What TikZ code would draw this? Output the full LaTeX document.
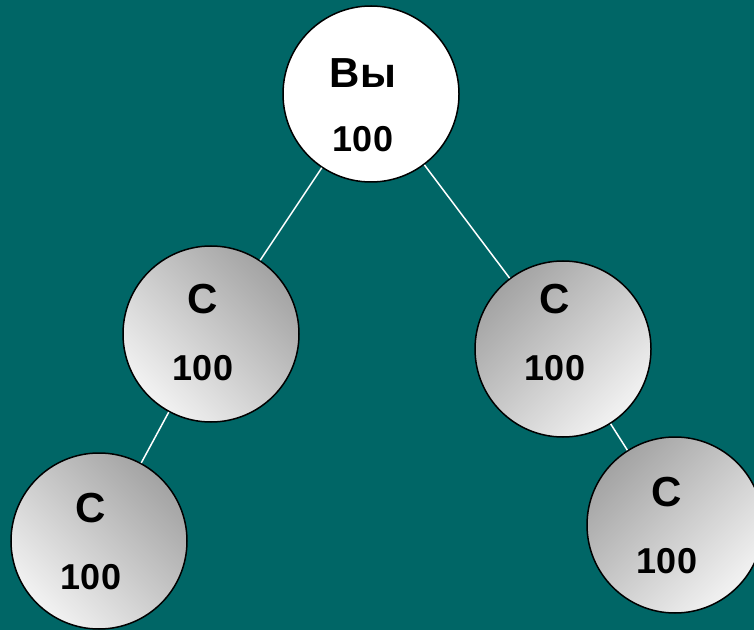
\documentclass[tikz,border=0pt]{standalone}
\usepackage{fontspec}
\setmainfont{Liberation Sans}
\usepackage{tikz}
\definecolor{teal bg}{RGB}{0,102,102}
\tikzset{
	person/.style={circle, draw=black, line width=0.75pt, minimum size=88pt, inner sep=0pt},
	grey left/.style={person, shading=axis, top color=black!36, bottom color=black!5, shading angle=-45},
	grey right/.style={person, shading=axis, top color=black!36, bottom color=black!5, shading angle=45},
	name text/.style={font=\bfseries\fontsize{21}{25}\selectfont},
	count text/.style={font=\bfseries\fontsize{18}{22}\selectfont},
	link/.style={white, line width=0.75pt}
}

\begin{document}
\begin{tikzpicture}[x=0.5pt, y=-0.5pt]
            \fill [teal bg] (0,0) rectangle (754,630);
            \useasboundingbox (0,0) rectangle (754,630);
            \clip (0,0) rectangle (754,630);

            \node (you) at (371,94) [person, fill=white] {};
            \node (left c) at (211,334) [grey left] {};
            \node (right c) at (563,349) [grey right] {};
            \node (far left c) at (99,541) [grey left] {};
            \node (far right c) at (675,525) [grey right] {};

            \draw [link] (you)--(left c);
            \draw [link] (you)--(right c);
            \draw [link] (left c)--(far left c);
            \draw [link] (right c)--(far right c);

            \node (you name) at (363,73) [name text] {Вы};
            \node (you count) at (363,139) [count text] {100};
            \node (left name) at (203,299) [name text] {С};
            \node (left count) at (203,368) [count text] {100};
            \node (right name) at (555,299) [name text] {С};
            \node (right count) at (555,368) [count text] {100};
            \node (far left name) at (91,508) [name text] {С};
            \node (far left count) at (91,577) [count text] {100};
            \node (far right name) at (667,492) [name text] {С};
            \node (far right count) at (667,561) [count text] {100};
        \end{tikzpicture}
\end{document}
